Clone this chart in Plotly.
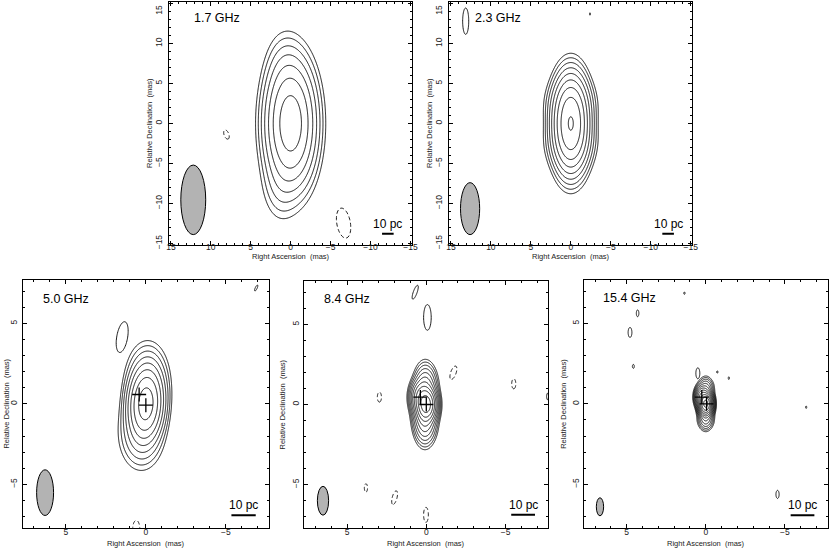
import numpy as np
import plotly.graph_objects as go

# ---------------- text ----------------
freq_labels = ["1.7 GHz", "2.3 GHz", "5.0 GHz", "8.4 GHz", "15.4 GHz"]
x_title = "Right Ascension  (mas)"
y_title = "Relative Declination  (mas)"
scale_text = "10 pc"

# ---------------- axes (mas) ----------------
axis_half = [15.2, 15.2, 7.7, 7.7, 7.7]
tick_major = [5, 5, 5, 5, 5]
tick_minor = [1, 1, 1, 1, 1]

# ---------------- source model components (RA, Dec offsets in mas) ----------------
# peak in units of the lowest contour; contour levels are 1, 2, 4, 8, ...
p1_cx = [0.0, 0.8, 1.3]
p1_cy = [0.0, 6.5, -7.5]
p1_amp = [99.0, 3.0, 3.0]
p1_sx = [1.45, 1.2, 1.2]
p1_sy = [3.65, 2.5, 2.5]
p1_pa = [0.0, 0.0, 0.0]
p1_nlev = 7

p2_cx = [0.0, 0.0, 0.0]
p2_cy = [0.0, 2.5, -2.5]
p2_amp = [265.0, 6.0, 6.0]
p2_sx = [1.0, 1.5, 1.5]
p2_sy = [2.63, 1.6, 1.6]
p2_pa = [0.0, 0.0, 0.0]
p2_nlev = 9

p3_cx = [0.0, -0.1, 0.3]
p3_cy = [0.0, 1.7, -1.9]
p3_amp = [190.0, 8.0, 9.0]
p3_sx = [0.49, 0.62, 0.66]
p3_sy = [1.05, 1.05, 1.05]
p3_pa = [-3.0, 0.0, 0.0]
p3_nlev = 8

p4_cx = [0.0, 0.375, 0.1, 0.0, 0.05]
p4_cy = [0.0, 0.46, 0.0, 1.2, -1.2]
p4_amp = [700.0, 120.0, 150.0, 15.0, 15.0]
p4_sx = [0.27, 0.27, 0.3, 0.32, 0.32]
p4_sy = [0.45, 0.45, 0.85, 0.6, 0.6]
p4_pa = [0.0, 0.0, 0.0, 0.0, 0.0]
p4_nlev = 10

p5_cx = [0.0, 0.25, 0.0, 0.0, 0.0]
p5_cy = [0.0, 0.42, 0.0, 0.95, -0.95]
p5_amp = [2500.0, 300.0, 150.0, 15.0, 15.0]
p5_sx = [0.17, 0.17, 0.18, 0.23, 0.23]
p5_sy = [0.28, 0.28, 0.5, 0.31, 0.31]
p5_pa = [0.0, 0.0, 0.0, 0.0, 0.0]
p5_nlev = 12

# ---------------- isolated low-level features (centre, half-sizes, PA, sign) ----------------
p1_bx = [8.04, -6.63]
p1_by = [-1.38, -12.46]
p1_bw = [0.3, 0.85]
p1_bh = [0.6, 1.9]
p1_bpa = [20.0, 10.0]
p1_bs = [-1, -1]

p2_bx = [13.15, -2.4]
p2_by = [12.8, 13.7]
p2_bw = [0.38, 0.06]
p2_bh = [1.65, 0.15]
p2_bpa = [0.0, 0.0]
p2_bs = [1, 1]

p3_bx = [1.48, 0.6, -6.9]
p3_by = [4.15, -7.75, 7.2]
p3_bw = [0.34, 0.22, 0.06]
p3_bh = [0.97, 0.5, 0.2]
p3_bpa = [-10.0, 0.0, -25.0]
p3_bs = [1, -1, 1]

p4_bx = [-0.07, 0.7, 2.96, -1.71, -5.52, 3.81, 2.0, 0.02, -7.65]
p4_by = [5.43, 7.0, 0.46, 1.98, 1.29, -5.2, -5.81, -6.88, 0.5]
p4_bw = [0.24, 0.12, 0.13, 0.17, 0.13, 0.1, 0.15, 0.15, 0.06]
p4_bh = [0.8, 0.46, 0.31, 0.44, 0.31, 0.26, 0.44, 0.47, 0.2]
p4_bpa = [0.0, -20.0, 0.0, -20.0, 0.0, 0.0, -15.0, 0.0, 0.0]
p4_bs = [1, 1, -1, -1, -1, -1, -1, -1, 1]

p5_bx = [0.5, 4.79, 4.31, 4.58, -4.54, 1.35, -0.73, -1.46, -6.35]
p5_by = [1.9, 4.44, 5.63, 2.33, -5.63, 6.88, 1.98, 1.6, -0.21]
p5_bw = [0.125, 0.12, 0.08, 0.06, 0.1, 0.04, 0.04, 0.04, 0.04]
p5_bh = [0.34, 0.31, 0.21, 0.12, 0.25, 0.07, 0.07, 0.08, 0.07]
p5_bpa = [0.0, 0.0, 0.0, 0.0, 0.0, 0.0, 0.0, 0.0, 0.0]
p5_bs = [1, 1, 1, 1, 1, 1, 1, 1, 1]

# ---------------- model-fit component markers ----------------
p3_mx = [0.42, 0.0]
p3_my = [0.58, -0.08]
p4_mx = [0.375, 0.0]
p4_my = [0.46, 0.0]
p5_mx = [0.25, -0.05]
p5_my = [0.42, 0.0]

# ---------------- restoring beams (centre, half-axes in mas) ----------------
beam_x = [12.2, 12.6, 6.3, 6.52, 6.69]
beam_y = [-9.55, -10.65, -5.52, -6.0, -6.4]
beam_w = [1.56, 1.2, 0.53, 0.355, 0.23]
beam_h = [4.35, 3.25, 1.42, 0.9, 0.56]

# ---------------- 10 pc scale bar ----------------
bar_len = [1.45, 1.45, 1.52, 1.5, 1.5]
bar_x0 = [-11.45, -11.45, -5.35, -5.36, -5.37]
bar_y = [-13.8, -13.8, -6.92, -6.87, -6.92]

# ---------------- panel labels ----------------
label_x = [12.3, 12.2, 6.55, 6.6, 6.62]
label_y = [13.2, 13.2, 6.55, 6.6, 6.56]

comps = [
    (p1_cx, p1_cy, p1_amp, p1_sx, p1_sy, p1_pa, p1_nlev),
    (p2_cx, p2_cy, p2_amp, p2_sx, p2_sy, p2_pa, p2_nlev),
    (p3_cx, p3_cy, p3_amp, p3_sx, p3_sy, p3_pa, p3_nlev),
    (p4_cx, p4_cy, p4_amp, p4_sx, p4_sy, p4_pa, p4_nlev),
    (p5_cx, p5_cy, p5_amp, p5_sx, p5_sy, p5_pa, p5_nlev),
]
blobs = [
    (p1_bx, p1_by, p1_bw, p1_bh, p1_bpa, p1_bs),
    (p2_bx, p2_by, p2_bw, p2_bh, p2_bpa, p2_bs),
    (p3_bx, p3_by, p3_bw, p3_bh, p3_bpa, p3_bs),
    (p4_bx, p4_by, p4_bw, p4_bh, p4_bpa, p4_bs),
    (p5_bx, p5_by, p5_bw, p5_bh, p5_bpa, p5_bs),
]
markers = [None, None, (p3_mx, p3_my), (p4_mx, p4_my), (p5_mx, p5_my)]

# layout geometry (pixels in the 830x548 canvas)
W, H = 830, 548
dom_px_x = [(169.3, 412.0), (449.3, 692.3), (22.7, 269.0), (304.3, 548.3), (584.0, 827.5)]
dom_px_y = [(2.0, 245.0), (2.0, 245.0), (280.0, 527.7), (281.0, 528.0), (280.0, 527.7)]
xlab_shift = [-6, -6, -4, -4, -4]
ylab_shift = [3, 3, 1, 1, 1]
xtitle_y_px = [256.0, 256.0, 543.5, 543.5, 543.5]
ytitle_x_px = [149.5, 429.5, 6.7, 282.0, 564.0]
ytick_x_px = [158.7, 438.7]     # column of the (edge-kept) top tick label in the upper row

FONT = "Liberation Sans, Arial, Helvetica, sans-serif"
TXT = "#222222"


def fmt(v):
    return ("\u2212" + str(abs(v))) if v < 0 else str(v)


def gauss(X, Y, x0, y0, amp, sx, sy, pa):
    t = np.deg2rad(pa)
    dx = X - x0
    dy = Y - y0
    a = dx * np.sin(t) + dy * np.cos(t)
    b = dx * np.cos(t) - dy * np.sin(t)
    return amp * np.exp(-0.5 * ((b / sx) ** 2 + (a / sy) ** 2))


def ext(sx, sy, pa, k=4.8):
    t = np.deg2rad(pa)
    ex = k * np.hypot(sx * np.cos(t), sy * np.sin(t))
    ey = k * np.hypot(sx * np.sin(t), sy * np.cos(t))
    return ex, ey


fig = go.Figure()
shapes = []
annotations = []

for i in range(5):
    n = i + 1
    xa = "x" if n == 1 else f"x{n}"
    ya = "y" if n == 1 else f"y{n}"
    cx, cy, amp, sx, sy, pa, nlev = comps[i]

    # core contour field (contours of log2 brightness at 0,1,2,... = levels 1,2,4,...)
    xmin, xmax, ymin, ymax = [], [], [], []
    for j in range(len(cx)):
        ex, ey = ext(sx[j], sy[j], pa[j])
        xmin.append(cx[j] - ex); xmax.append(cx[j] + ex)
        ymin.append(cy[j] - ey); ymax.append(cy[j] + ey)
    step = min(sx) / 12.0
    xs = np.arange(min(xmin), max(xmax) + step, step)
    ys = np.arange(min(ymin), max(ymax) + step, step)
    X, Y = np.meshgrid(xs, ys)
    I = np.zeros_like(X)
    for j in range(len(cx)):
        I += gauss(X, Y, cx[j], cy[j], amp[j], sx[j], sy[j], pa[j])
    Z = np.round(np.log2(np.maximum(I, 2.0 ** -3)), 3)
    fig.add_trace(go.Contour(
        x=np.round(xs, 4), y=np.round(ys, 4), z=Z, xaxis=xa, yaxis=ya,
        autocontour=False,
        contours=dict(start=0, end=nlev - 1, size=1, coloring="none"),
        line=dict(color="black", width=0.9), showscale=False, hoverinfo="skip"))

    # isolated features
    bx, by, bw, bh, bpa, bs = blobs[i]
    for j in range(len(bx)):
        gx = bw[j] / 0.9005
        gy = bh[j] / 0.9005
        ex, ey = ext(gx, gy, bpa[j], k=2.2)
        lx = np.linspace(bx[j] - ex, bx[j] + ex, 41)
        ly = np.linspace(by[j] - ey, by[j] + ey, 41)
        LX, LY = np.meshgrid(lx, ly)
        Ib = gauss(LX, LY, bx[j], by[j], 1.5, gx, gy, bpa[j])
        Zb = np.round(np.log2(np.maximum(Ib, 2.0 ** -3)), 3)
        fig.add_trace(go.Contour(
            x=np.round(lx, 4), y=np.round(ly, 4), z=Zb, xaxis=xa, yaxis=ya,
            autocontour=False,
            contours=dict(start=0, end=0.5, size=1, coloring="none"),
            line=dict(color="black", width=0.9, dash="solid" if bs[j] > 0 else "4px,2.5px"),
            showscale=False, hoverinfo="skip"))

    # model-fit component markers
    if markers[i] is not None:
        mx, my = markers[i]
        fig.add_trace(go.Scatter(
            x=mx, y=my, xaxis=xa, yaxis=ya, mode="markers",
            marker=dict(symbol="cross-thin", size=10, line=dict(width=1.3, color="black")),
            hoverinfo="skip", showlegend=False))

    # beam
    shapes.append(dict(type="circle", xref=xa, yref=ya,
                       x0=beam_x[i] - beam_w[i], x1=beam_x[i] + beam_w[i],
                       y0=beam_y[i] - beam_h[i], y1=beam_y[i] + beam_h[i],
                       fillcolor="#b3b3b3", line=dict(color="black", width=1)))
    # scale bar
    shapes.append(dict(type="line", xref=xa, yref=ya,
                       x0=bar_x0[i], x1=bar_x0[i] - bar_len[i], y0=bar_y[i], y1=bar_y[i],
                       line=dict(color="black", width=2)))
    annotations.append(dict(xref=xa, yref=ya, x=bar_x0[i] - bar_len[i] / 2, y=bar_y[i],
                            text=scale_text, showarrow=False, xanchor="center", yanchor="bottom",
                            yshift=1, font=dict(size=12, color="black", family=FONT)))
    annotations.append(dict(xref=xa, yref=ya, x=label_x[i], y=label_y[i],
                            text=freq_labels[i], showarrow=False, xanchor="left", yanchor="middle",
                            font=dict(size=12.5, color="black", family=FONT)))

    (x0p, x1p) = dom_px_x[i]
    (y0p, y1p) = dom_px_y[i]
    # axis titles
    annotations.append(dict(xref="paper", yref="paper", x=(x0p + x1p) / 2 / W,
                            y=1 - xtitle_y_px[i] / H, text=x_title, showarrow=False,
                            xanchor="center", yanchor="middle",
                            font=dict(size=7.5, color=TXT, family=FONT)))
    annotations.append(dict(xref="paper", yref="paper", x=ytitle_x_px[i] / W,
                            y=1 - (y0p + y1p) / 2 / H, text=y_title, showarrow=False,
                            textangle=-90, xanchor="center", yanchor="middle",
                            font=dict(size=7.5, color=TXT, family=FONT)))

    hr = axis_half[i]
    common = dict(showline=True, linecolor="black", linewidth=1, mirror="ticks",
                  ticks="inside", ticklen=4, tickwidth=0.8, tickcolor="black",
                  showgrid=False, zeroline=False, automargin=False,
                  ticklabeloverflow="allow",
                  minor=dict(dtick=tick_minor[i], tick0=0, ticks="inside", ticklen=2,
                             tickwidth=0.8, tickcolor="black", showgrid=False),
                  tickfont=dict(size=8.5, color=TXT, family=FONT))
    majors = list(range(-int(hr // tick_major[i]) * tick_major[i],
                        int(hr // tick_major[i]) * tick_major[i] + 1, tick_major[i]))
    xt = dict(tickmode="array", tickvals=majors, ticktext=[fmt(v) for v in majors])
    yt_text = [fmt(v) for v in majors]
    if i < 2:
        # the top label sits at the very edge of the figure: keep it inside as in the original
        yt_text[-1] = ""
        annotations.append(dict(xref="paper", yref="paper", x=ytick_x_px[i] / W,
                                y=1 - 10.0 / H, text=fmt(majors[-1]), showarrow=False,
                                textangle=-90, xanchor="center", yanchor="middle",
                                font=dict(size=8.5, color=TXT, family=FONT)))
    yt = dict(tickmode="array", tickvals=majors, ticktext=yt_text)
    fig.update_layout(**{
        ("xaxis" if n == 1 else f"xaxis{n}"): dict(
            domain=[x0p / W, x1p / W], range=[hr, -hr], anchor=ya,
            ticklabelstandoff=xlab_shift[i], **xt, **common),
        ("yaxis" if n == 1 else f"yaxis{n}"): dict(
            domain=[1 - y1p / H, 1 - y0p / H], range=[-hr, hr], anchor=xa,
            tickangle=-90, ticklabelstandoff=ylab_shift[i], **yt, **common),
    })

fig.update_layout(
    width=W, height=H, margin=dict(l=0, r=0, t=0, b=0, autoexpand=False),
    paper_bgcolor="white", plot_bgcolor="white", showlegend=False,
    shapes=shapes, annotations=annotations,
    font=dict(family=FONT),
)
fig.write_html("out.html", config={"displayModeBar": False},
               post_script="document.body.style.margin='0px';document.body.style.overflow='hidden';")
